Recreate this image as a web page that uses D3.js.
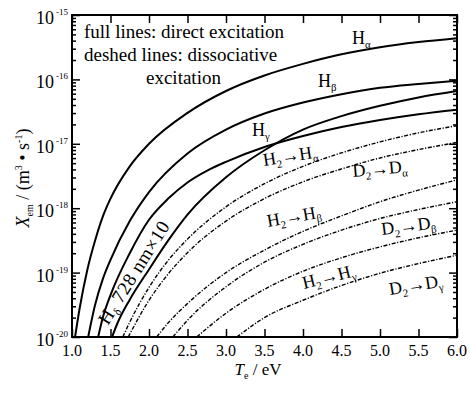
<!DOCTYPE html>
<html>
<head>
<meta charset="utf-8">
<script src="https://cdn.jsdelivr.net/npm/d3@7/dist/d3.min.js"></script>
<style>
  html, body { margin: 0; padding: 0; background: #fff; }
  svg text { font-family: "Liberation Serif", "DejaVu Serif", "Times New Roman", serif; fill: #000; }
</style>
</head>
<body>
<svg id="chart" width="470" height="396" font-family="Liberation Serif, DejaVu Serif, serif"></svg>
<script>
// Emission rate coefficients X_em (m^3 s^-1) versus electron temperature T_e (eV)

// direct excitation (solid lines)
const hAlphaT = [1.04, 1.1, 1.2, 1.3, 1.4, 1.5, 1.75, 2.0, 2.5, 3.0, 3.5, 4.0, 4.5, 5.0, 5.5, 6.0];
const hAlphaX = [1e-20, 2.82e-20, 1.12e-19, 3.16e-19, 7.41e-19, 1.41e-18, 4.47e-18, 1.00e-17, 3.02e-17, 6.61e-17, 1.15e-16, 1.74e-16, 2.45e-16, 3.16e-16, 3.80e-16, 4.37e-16];

const hBetaT = [1.21, 1.3, 1.4, 1.5, 1.75, 2.0, 2.5, 3.0, 3.5, 4.0, 4.5, 5.0, 5.5, 6.0];
const hBetaX = [1e-20, 3.16e-20, 7.94e-20, 1.58e-19, 6.31e-19, 1.78e-18, 7.08e-18, 1.66e-17, 2.95e-17, 4.37e-17, 5.89e-17, 7.41e-17, 8.51e-17, 9.55e-17];

const hGammaT = [1.34, 1.4, 1.5, 1.75, 2.0, 2.25, 2.5, 2.75, 3.0, 3.5, 4.0, 4.5, 5.0, 5.5, 6.0];
const hGammaX = [1e-20, 2.00e-20, 4.47e-20, 2.00e-19, 6.61e-19, 1.41e-18, 2.51e-18, 3.80e-18, 5.25e-18, 8.91e-18, 1.32e-17, 1.82e-17, 2.34e-17, 2.88e-17, 3.39e-17];

// H_delta 728 nm, multiplied by 10
const hDeltaT = [1.52, 1.6, 1.75, 2.0, 2.25, 2.5, 3.0, 3.5, 4.0, 4.5, 5.0, 5.5, 6.0];
const hDeltaX = [1e-20, 1.74e-20, 3.80e-20, 1.12e-19, 3.16e-19, 7.94e-19, 3.02e-18, 7.94e-18, 1.66e-17, 2.69e-17, 3.89e-17, 5.25e-17, 6.61e-17];

// dissociative excitation (dashed lines)
const h2AlphaT = [1.66, 1.75, 2.0, 2.25, 2.5, 3.0, 3.5, 4.0, 4.5, 5.0, 5.5, 6.0];
const h2AlphaX = [1e-20, 1.70e-20, 5.89e-20, 1.55e-19, 3.31e-19, 1.05e-18, 2.40e-18, 4.47e-18, 7.24e-18, 1.07e-17, 1.48e-17, 1.91e-17];

const d2AlphaT = [1.73, 2.0, 2.25, 2.5, 3.0, 3.5, 4.0, 4.5, 5.0, 5.5, 6.0];
const d2AlphaX = [1e-20, 3.72e-20, 9.55e-20, 2.04e-19, 6.31e-19, 1.41e-18, 2.57e-18, 4.07e-18, 6.03e-18, 8.13e-18, 1.05e-17];

const h2BetaT = [2.10, 2.25, 2.5, 3.0, 3.5, 4.0, 4.5, 5.0, 5.5, 6.0];
const h2BetaX = [1e-20, 1.66e-20, 3.31e-20, 1.00e-19, 2.24e-19, 4.37e-19, 7.59e-19, 1.26e-18, 1.91e-18, 2.75e-18];

const d2BetaT = [2.31, 2.5, 3.0, 3.5, 4.0, 4.5, 5.0, 5.5, 6.0];
const d2BetaX = [1e-20, 1.82e-20, 6.03e-20, 1.45e-19, 2.75e-19, 4.57e-19, 6.92e-19, 9.55e-19, 1.26e-18];

const h2GammaT = [2.62, 3.0, 3.5, 4.0, 4.5, 5.0, 5.5, 6.0];
const h2GammaX = [1e-20, 2.34e-20, 5.50e-20, 1.05e-19, 1.70e-19, 2.51e-19, 3.47e-19, 4.57e-19];

const d2GammaT = [3.14, 3.5, 4.0, 4.5, 5.0, 5.5, 6.0];
const d2GammaX = [1e-20, 2.00e-20, 3.72e-20, 6.31e-20, 9.77e-20, 1.38e-19, 1.86e-19];

// axis ticks
const xTickValues = [1.0, 1.5, 2.0, 2.5, 3.0, 3.5, 4.0, 4.5, 5.0, 5.5, 6.0];
const yTickExponents = [-20, -19, -18, -17, -16, -15];

const series = [
  { t: hAlphaT, v: hAlphaX, dashed: false },
  { t: hBetaT, v: hBetaX, dashed: false },
  { t: hGammaT, v: hGammaX, dashed: false },
  { t: hDeltaT, v: hDeltaX, dashed: false },
  { t: h2AlphaT, v: h2AlphaX, dashed: true },
  { t: d2AlphaT, v: d2AlphaX, dashed: true },
  { t: h2BetaT, v: h2BetaX, dashed: true },
  { t: d2BetaT, v: d2BetaX, dashed: true },
  { t: h2GammaT, v: h2GammaX, dashed: true },
  { t: d2GammaT, v: d2GammaX, dashed: true }
];

const svg = d3.select("#chart");
const L = 72, R = 457, T = 15, B = 337;

const x = d3.scaleLinear().domain([1, 6]).range([L, R]);
const y = d3.scaleLog().domain([1e-20, 1e-15]).range([B, T]);

svg.append("defs").append("clipPath").attr("id", "plotClip")
  .append("rect").attr("x", L).attr("y", T).attr("width", R - L).attr("height", B - T);

// curves
const line = d3.line()
  .x(d => x(d[0]))
  .y(d => y(d[1]))
  .curve(d3.curveMonotoneX);

const curves = svg.append("g").attr("clip-path", "url(#plotClip)");
series.forEach(s => {
  const pts = s.t.map((tv, i) => [tv, s.v[i]]);
  curves.append("path")
    .attr("d", line(pts))
    .attr("fill", "none")
    .attr("stroke", "#000")
    .attr("stroke-width", s.dashed ? 1.4 : 2)
    .attr("stroke-dasharray", s.dashed ? "4,1.6,1.2,1.6" : null)
    .attr("stroke-linejoin", "round");
});

// minor log ticks
const minorVals = [];
for (let e = -20; e < -15; e++) {
  for (let m = 2; m <= 9; m++) minorVals.push(m * Math.pow(10, e));
}
const majorVals = yTickExponents.map(e => Math.pow(10, e));

function styleAxis(g) {
  g.select(".domain").remove();
  g.selectAll(".tick line").attr("stroke", "#000").attr("stroke-width", 1.5);
  g.selectAll(".tick text").remove();
}

// inward ticks on all four sides
svg.append("g").attr("transform", `translate(0,${B})`)
  .call(d3.axisBottom(x).tickValues(xTickValues).tickSize(-8)).call(styleAxis);
svg.append("g").attr("transform", `translate(0,${T})`)
  .call(d3.axisTop(x).tickValues(xTickValues).tickSize(-8)).call(styleAxis);
svg.append("g").attr("transform", `translate(${L},0)`)
  .call(d3.axisLeft(y).tickValues(majorVals).tickSize(-8)).call(styleAxis);
svg.append("g").attr("transform", `translate(${L},0)`)
  .call(d3.axisLeft(y).tickValues(minorVals).tickSize(-4)).call(styleAxis);
svg.append("g").attr("transform", `translate(${R},0)`)
  .call(d3.axisRight(y).tickValues(majorVals).tickSize(-8)).call(styleAxis);
svg.append("g").attr("transform", `translate(${R},0)`)
  .call(d3.axisRight(y).tickValues(minorVals).tickSize(-4)).call(styleAxis);

// frame
svg.append("rect")
  .attr("x", L).attr("y", T).attr("width", R - L).attr("height", B - T)
  .attr("fill", "none").attr("stroke", "#000").attr("stroke-width", 2);

// x tick labels
svg.append("g").selectAll("text").data(xTickValues).join("text")
  .attr("x", d => x(d)).attr("y", B + 19)
  .attr("text-anchor", "middle").attr("font-size", 16)
  .text(d => d.toFixed(1));

// y tick labels 10^n
const yLab = svg.append("g");
yTickExponents.forEach(e => {
  const yy = y(Math.pow(10, e));
  yLab.append("text").attr("x", 54).attr("y", yy + 9)
    .attr("text-anchor", "end").attr("font-size", 18).text("10");
  yLab.append("text").attr("x", 56).attr("y", yy + 0)
    .attr("font-size", 9).text("-" + (-e));
});

// axis titles
const xt = svg.append("text").attr("x", 258).attr("y", 375)
  .attr("text-anchor", "middle").attr("font-size", 17);
xt.append("tspan").attr("font-style", "italic").text("T");
xt.append("tspan").attr("font-size", 10).attr("dy", 4).text("e");
xt.append("tspan").attr("dy", -4).text(" / eV");

const yt = svg.append("text").attr("transform", "translate(29,178) rotate(-90)")
  .attr("text-anchor", "middle").attr("font-size", 18);
yt.append("tspan").attr("font-style", "italic").text("X");
yt.append("tspan").attr("font-size", 10).attr("dy", 4).text("em");
yt.append("tspan").attr("dy", -4).text(" / (m");
yt.append("tspan").attr("font-size", 10).attr("dy", -7).text("3");
yt.append("tspan").attr("dy", 7).text(" \u2022 s");
yt.append("tspan").attr("font-size", 10).attr("dy", -7).text("-1");
yt.append("tspan").attr("dy", 7).text(")");

// legend text
const legendLines = [
  { text: "full lines: direct excitation", x: 84, y: 38 },
  { text: "deshed lines: dissociative", x: 84, y: 61 },
  { text: "excitation", x: 146, y: 84 }
];
svg.append("g").selectAll("text").data(legendLines).join("text")
  .attr("x", d => d.x).attr("y", d => d.y).attr("font-size", 19)
  .text(d => d.text);

// curve labels
function subLabel(px, py, angle, parts, size, spacing) {
  const t = svg.append("text")
    .attr("transform", `translate(${px},${py}) rotate(${angle})`)
    .attr("font-size", size)
    .attr("letter-spacing", spacing || 0);
  let shift = 0;
  parts.forEach(p => {
    const sp = t.append("tspan").text(p.s);
    const target = p.sub ? 4 : 0;
    if (target !== shift) { sp.attr("dy", target - shift); shift = target; }
    if (p.sub) sp.attr("font-size", size * 0.6);
  });
  return t;
}

subLabel(352, 44, 0, [{ s: "H" }, { s: "\u03b1", sub: true }], 18);
subLabel(318, 87, 0, [{ s: "H" }, { s: "\u03b2", sub: true }], 18);
subLabel(252, 136, 0, [{ s: "H" }, { s: "\u03b3", sub: true }], 18);
subLabel(108, 326, -58, [{ s: "H" }, { s: "\u03b4", sub: true }, { s: " 728 nm\u00d710" }], 19, 0.6);

subLabel(264, 166, -9, [{ s: "H" }, { s: "2", sub: true }, { s: "\u2192H" }, { s: "\u03b1", sub: true }], 18);
subLabel(353, 177, -5, [{ s: "D" }, { s: "2", sub: true }, { s: "\u2192D" }, { s: "\u03b1", sub: true }], 18);
subLabel(268, 227, -10, [{ s: "H" }, { s: "2", sub: true }, { s: "\u2192H" }, { s: "\u03b2", sub: true }], 18);
subLabel(382, 235, -7, [{ s: "D" }, { s: "2", sub: true }, { s: "\u2192D" }, { s: "\u03b2", sub: true }], 18);
subLabel(304, 289, -14, [{ s: "H" }, { s: "2", sub: true }, { s: "\u2192H" }, { s: "\u03b3", sub: true }], 18);
subLabel(390, 295, -9, [{ s: "D" }, { s: "2", sub: true }, { s: "\u2192D" }, { s: "\u03b3", sub: true }], 18);
</script>
</body>
</html>
